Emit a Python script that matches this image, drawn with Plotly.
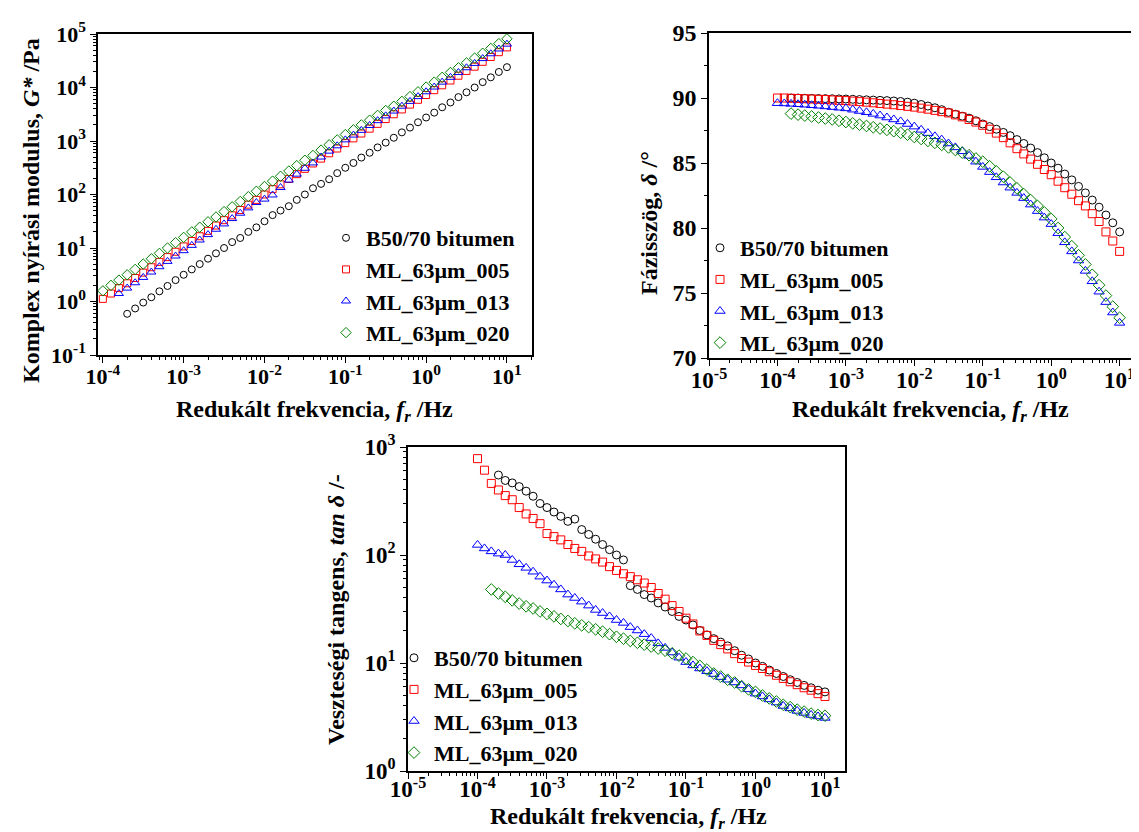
import plotly.graph_objects as go

# ---------------- data ----------------
FREQ = [1.00e-4, 1.26e-4, 1.58e-4, 2.00e-4, 2.51e-4, 3.16e-4, 3.98e-4, 5.01e-4, 6.31e-4, 7.94e-4,
        1.00e-3, 1.26e-3, 1.58e-3, 2.00e-3, 2.51e-3, 3.16e-3, 3.98e-3, 5.01e-3, 6.31e-3, 7.94e-3,
        1.00e-2, 1.26e-2, 1.58e-2, 2.00e-2, 2.51e-2, 3.16e-2, 3.98e-2, 5.01e-2, 6.31e-2, 7.94e-2,
        0.100, 0.126, 0.158, 0.200, 0.251, 0.316, 0.398, 0.501, 0.631, 0.794,
        1.00, 1.26, 1.58, 2.00, 2.51, 3.16, 3.98, 5.01, 6.31, 7.94,
        10.0]

SERIES = ["B50/70 bitumen", "ML_63µm_005", "ML_63µm_013", "ML_63µm_020"]

# Complex shear modulus G* /Pa
G_B50 = [None, None, None, 0.589, 0.741, 0.955, 1.20, 1.55, 1.95, 2.51,
         3.16, 3.98, 5.01, 6.31, 7.94, 10.0, 12.9, 15.4, 20.0, 24.3,
         31.6, 41.2, 50.1, 60.5, 79.4, 100, 131, 158, 193, 251,
         316, 389, 490, 603, 759, 933, 1150, 1450, 1780, 2240,
         2750, 3390, 4270, 5250, 6610, 8130, 10000, 12600, 15500, 19500,
         24000]
G_005 = [1.12, 1.41, 1.78, 2.19, 2.75, 3.47, 4.37, 5.50, 6.76, 8.51,
         10.7, 13.5, 16.6, 20.9, 26.3, 33.1, 40.7, 51.3, 64.6, 79.4,
         100, 126, 155, 195, 240, 302, 380, 468, 589, 724,
         912, 1120, 1380, 1700, 2090, 2570, 3160, 3890, 4790, 5890,
         7240, 8910, 11000, 13500, 16600, 20400, 24500, 30200, 37200, 45700,
         56200]
G_013 = [None, None, 1.41, 1.78, 2.24, 2.82, 3.55, 4.47, 5.62, 7.08,
         8.91, 11.2, 14.1, 17.8, 22.4, 28.2, 35.5, 44.7, 56.2, 70.8,
         82.0, 98.0, 135, 186, 240, 309, 389, 501, 646, 813,
         1050, 1290, 1580, 1950, 2400, 2950, 3630, 4470, 5500, 6760,
         8320, 10200, 12600, 15500, 19100, 23400, 28200, 34700, 42700, 52500,
         64600]
G_020 = [1.58, 2.00, 2.51, 3.16, 3.98, 5.01, 6.31, 7.94, 10.0, 12.6,
         15.8, 20.0, 24.5, 30.9, 38.0, 47.9, 58.9, 74.1, 91.2, 115,
         141, 178, 219, 275, 347, 437, 537, 676, 851, 1050,
         1320, 1620, 2000, 2450, 3020, 3720, 4470, 5500, 6760, 8320,
         10200, 12600, 15500, 19100, 23400, 28800, 35500, 43700, 53700, 66100,
         81300]

# Phase angle delta /deg
D_B50 = [None, None, 90.0, 90.0, 89.98, 89.97, 89.96, 89.95, 89.94, 89.93,
         89.92, 89.90, 89.88, 89.86, 89.84, 89.82, 89.80, 89.77, 89.73, 89.68,
         89.60, 89.50, 89.38, 89.25, 89.10, 88.90, 88.75, 88.60, 88.45, 88.25,
         88.00, 87.80, 87.60, 87.35, 87.10, 86.80, 86.50, 86.15, 85.80, 85.40,
         85.00, 84.60, 84.15, 83.70, 83.20, 82.70, 82.15, 81.60, 81.00, 80.40,
         79.70]
D_005 = [90.0, 90.0, 89.98, 89.96, 89.94, 89.92, 89.90, 89.88, 89.85, 89.82,
         89.80, 89.76, 89.72, 89.68, 89.63, 89.58, 89.53, 89.48, 89.42, 89.36,
         89.30, 89.22, 89.14, 89.05, 88.95, 88.85, 88.70, 88.55, 88.35, 88.15,
         87.90, 87.60, 87.30, 86.95, 86.55, 86.10, 85.70, 85.30, 84.90, 84.50,
         84.10, 83.60, 83.10, 82.60, 82.10, 81.70, 81.10, 80.50, 79.70, 79.00,
         78.20]
D_013 = [89.60, 89.58, 89.55, 89.52, 89.48, 89.44, 89.40, 89.35, 89.30, 89.25,
         89.20, 89.10, 89.00, 88.90, 88.78, 88.65, 88.50, 88.35, 88.20, 88.00,
         87.80, 87.55, 87.30, 87.05, 86.80, 86.50, 86.20, 85.90, 85.55, 85.10,
         84.70, 84.30, 83.90, 83.50, 83.10, 82.70, 82.30, 81.80, 81.30, 80.80,
         80.30, 79.60, 78.90, 78.20, 77.50, 76.70, 75.90, 75.10, 74.30, 73.50,
         72.70]
D_020 = [None, None, 88.80, 88.72, 88.65, 88.58, 88.50, 88.42, 88.35, 88.25,
         88.15, 88.05, 87.95, 87.85, 87.75, 87.65, 87.55, 87.45, 87.32, 87.18,
         87.00, 86.85, 86.70, 86.55, 86.40, 86.20, 86.00, 85.80, 85.60, 85.35,
         85.10, 84.75, 84.35, 83.95, 83.50, 83.05, 82.60, 82.15, 81.70, 81.20,
         80.70, 80.00, 79.30, 78.60, 77.90, 77.20, 76.40, 75.60, 74.80, 73.95,
         73.10]

# Loss tangent tan(delta) /-
T_B50 = [None, None, None, 550, 490, 465, 430, 390, 350, 300,
         275, 250, 228, 205, 215, 172, 155, 140, 125, 112,
         100, 90, 52, 48, 43, 40, 36, 33, 30, 27,
         25.0, 22.5, 20.0, 18.2, 16.8, 15.6, 14.4, 13.0, 11.8, 10.9,
         10.0, 9.3, 8.6, 8.0, 7.5, 7.0, 6.6, 6.2, 5.9, 5.6,
         5.4]
T_005 = [780, 610, 460, 400, 355, 325, 275, 240, 218, 195,
         158, 148, 138, 125, 115, 108, 98, 92, 86, 78,
         72, 67, 63, 59, 55, 50, 44, 39, 34, 30,
         26.0, 23.0, 19.8, 18.0, 16.2, 14.8, 13.5, 12.2, 11.0, 10.2,
         9.5, 8.9, 8.3, 7.7, 7.2, 6.7, 6.3, 5.9, 5.6, 5.2,
         4.9]
T_013 = [124, 115, 108, 103, 100, 90, 82, 76, 70, 63,
         58, 53, 48, 43, 40, 37, 34, 31, 29, 27,
         25.0, 23.5, 21.5, 20.0, 18.5, 17.0, 15.2, 13.8, 12.5, 11.2,
         10.2, 9.5, 8.9, 8.4, 7.9, 7.4, 7.0, 6.6, 6.2, 5.7,
         5.2, 4.9, 4.6, 4.3, 4.0, 3.8, 3.6, 3.45, 3.3, 3.2,
         3.1]
T_020 = [None, None, 48, 44, 41, 38, 35.5, 33.5, 32, 30,
         28.5, 27, 25.6, 24.5, 23.3, 22.3, 21.5, 20.5, 19.5, 18.5,
         17.5, 16.8, 16.0, 15.4, 14.8, 14.2, 13.6, 13.0, 12.3, 11.7,
         11.0, 10.2, 9.4, 8.7, 8.0, 7.5, 7.0, 6.6, 6.1, 5.7,
         5.4, 5.0, 4.7, 4.4, 4.1, 3.9, 3.7, 3.55, 3.4, 3.3,
         3.25]

X_TICKS_1 = [1e-4, 1e-3, 1e-2, 1e-1, 1e0, 1e1]
X_TICKS_2 = [1e-5, 1e-4, 1e-3, 1e-2, 1e-1, 1e0, 1e1]
X_TICKTEXT_1 = ["10<sup>-4</sup>", "10<sup>-3</sup>", "10<sup>-2</sup>", "10<sup>-1</sup>", "10<sup>0</sup>", "10<sup>1</sup>"]
X_TICKTEXT_2 = ["10<sup>-5</sup>"] + X_TICKTEXT_1
G_TICKS = [1e-1, 1e0, 1e1, 1e2, 1e3, 1e4, 1e5]
G_TICKTEXT = ["10<sup>-1</sup>", "10<sup>0</sup>", "10<sup>1</sup>", "10<sup>2</sup>", "10<sup>3</sup>", "10<sup>4</sup>", "10<sup>5</sup>"]
D_TICKS = [70, 75, 80, 85, 90, 95]
T_TICKS = [1e0, 1e1, 1e2, 1e3]
T_TICKTEXT = ["10<sup>0</sup>", "10<sup>1</sup>", "10<sup>2</sup>", "10<sup>3</sup>"]

# ---------------- style ----------------
FONT = "Liberation Serif"
COLORS = ["#000000", "#ff0000", "#0000ff", "#008000"]
SYMBOLS = ["circle-open", "square-open", "triangle-up-open", "diamond-open"]
SIZES_P1 = [7, 7, 8, 8]
SIZES_P23 = [8, 8, 9, 9]

W, H = 1139, 832

def px_x(a, b):
    return [a / W, b / W]

def px_y(top, bottom):
    return [1 - bottom / H, 1 - top / H]

fig = go.Figure()

panels = [
    ("x", "y", "legend", [G_B50, G_005, G_013, G_020], SIZES_P1),
    ("x2", "y2", "legend2", [D_B50, D_005, D_013, D_020], SIZES_P23),
    ("x3", "y3", "legend3", [T_B50, T_005, T_013, T_020], SIZES_P23),
]
for xa, ya, leg, ys, sizes in panels:
    for k in range(4):
        fig.add_trace(go.Scatter(
            x=FREQ, y=ys[k], mode="markers", name=SERIES[k],
            xaxis=xa, yaxis=ya, legend=leg,
            marker=dict(symbol=SYMBOLS[k], size=sizes[k], color=COLORS[k],
                        line=dict(width=1, color=COLORS[k])),
        ))

def log_minor(lo, hi):
    vals = []
    for e in range(lo, hi):
        for m in range(2, 10):
            vals.append(m * 10.0 ** e)
    return vals

def tf(size):
    return dict(family=FONT, size=size, color="black", weight="bold")

common = dict(showline=True, linecolor="black", linewidth=1.5, ticks="outside",
              ticklen=6, tickwidth=1.2, tickcolor="black", showgrid=False, zeroline=False,
              automargin=False)
minor_kw = dict(ticks="outside", ticklen=3, tickcolor="black", tickwidth=1)

fig.update_layout(
    template="none",
    width=W, height=H, margin=dict(l=0, r=0, t=0, b=0, autoexpand=False),
    paper_bgcolor="white", plot_bgcolor="white", showlegend=True,
    xaxis=dict(type="log", domain=px_x(90, 524), anchor="y", range=[-4.06, 1.31],
               tickmode="array", tickvals=X_TICKS_1, ticktext=X_TICKTEXT_1, mirror=True,
               tickfont=tf(22), ticklabelstandoff=-5,
               minor=dict(tickmode="array", tickvals=log_minor(-5, 2), **minor_kw), **common),
    yaxis=dict(type="log", domain=px_y(26, 347), anchor="x", range=[-1, 5],
               tickmode="array", tickvals=G_TICKS, ticktext=G_TICKTEXT, mirror=True,
               tickfont=tf(22),
               minor=dict(tickmode="array", tickvals=log_minor(-1, 5), **minor_kw), **common),
    xaxis2=dict(type="log", domain=[701 / W, 1.0], anchor="y2", range=[-5, 1.40],
                tickmode="array", tickvals=X_TICKS_2, ticktext=X_TICKTEXT_2, mirror=True,
                tickfont=tf(23), ticklabelstandoff=-5, ticklabeloverflow="allow",
                minor=dict(tickmode="array", tickvals=log_minor(-5, 2), **minor_kw), **common),
    yaxis2=dict(domain=px_y(25, 350), anchor="x2", range=[70, 95],
                tickmode="array", tickvals=D_TICKS, mirror=False, tickfont=tf(24),
                minor=dict(dtick=2.5, **minor_kw), **common),
    xaxis3=dict(type="log", domain=px_x(400, 837), anchor="y3", range=[-5, 1.288],
                tickmode="array", tickvals=X_TICKS_2, ticktext=X_TICKTEXT_2, mirror=True,
                tickfont=tf(23), ticklabelstandoff=-9,
                minor=dict(tickmode="array", tickvals=log_minor(-5, 2), **minor_kw), **common),
    yaxis3=dict(type="log", domain=px_y(439, 763), anchor="x3", range=[0, 3],
                tickmode="array", tickvals=T_TICKS, ticktext=T_TICKTEXT, mirror=True,
                tickfont=tf(23),
                minor=dict(tickmode="array", tickvals=log_minor(0, 3), **minor_kw), **common),
)

leg_common = dict(font=tf(22), bgcolor="rgba(0,0,0,0)", borderwidth=0,
                  xanchor="left", yanchor="top", tracegroupgap=0, itemwidth=30)
fig.update_layout(
    legend=dict(x=318 / W, y=1 - 209 / H, **leg_common),
    legend2=dict(x=692 / W, y=1 - 219 / H, **leg_common),
    legend3=dict(x=386 / W, y=1 - 629 / H, **leg_common),
)

title_font = tf(24)
fr = "Redukált frekvencia, <i>f<sub>r</sub></i> /Hz"
annots = [
    dict(text=fr, x=306 / W, y=1 - 403 / H),
    dict(text=fr, x=922 / W, y=1 - 403 / H),
    dict(text=fr, x=620 / W, y=1 - 810 / H),
    dict(text="Komplex nyírási modulus, <i>G*</i> /Pa", x=23 / W, y=1 - 203 / H, textangle=-90),
    dict(text="Fázisszög, <i>δ</i> /°", x=641 / W, y=1 - 215 / H, textangle=-90),
    dict(text="Veszteségi tangens, <i>tan δ</i> /-", x=328 / W, y=1 - 602 / H, textangle=-90),
]
for a in annots:
    fig.add_annotation(xref="paper", yref="paper", showarrow=False, font=title_font,
                       xanchor="center", yanchor="middle", **a)

fig.write_html("out.html")
